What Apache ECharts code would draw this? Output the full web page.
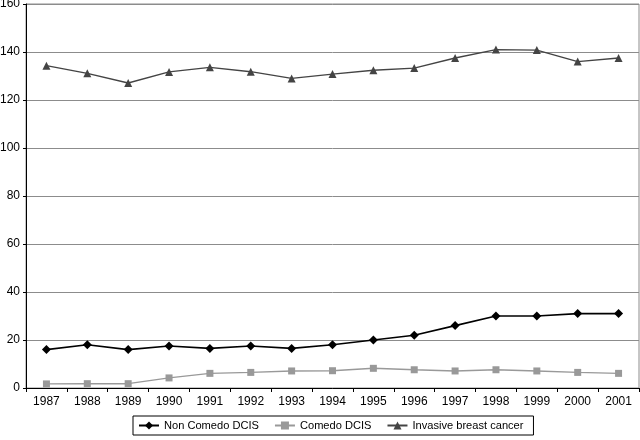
<!DOCTYPE html>
<html>
<head>
<meta charset="utf-8">
<script src="https://cdn.jsdelivr.net/npm/echarts@6/dist/echarts.min.js"></script>
<style>html,body{margin:0;padding:0;background:#fff}#c{width:640px;height:440px}</style>
</head>
<body>
<div id="c"></div>
<script>
const years = ['1987','1988','1989','1990','1991','1992','1993','1994','1995','1996','1997','1998','1999','2000','2001'];
const nonComedo = [16, 18, 16, 17.5, 16.5, 17.5, 16.5, 18, 20, 22, 26, 30, 30, 31, 31];
const comedo = [1.7, 1.8, 1.8, 4.2, 6.1, 6.5, 7.1, 7.2, 8.2, 7.6, 7.1, 7.6, 7.1, 6.5, 6.1];
const invasive = [134.3, 131.1, 127.1, 131.7, 133.6, 131.8, 129.0, 130.8, 132.4, 133.3, 137.5, 141.0, 140.8, 136.0, 137.5];
const yTicks = [0, 20, 40, 60, 80, 100, 120, 140, 160];

const font = 'Liberation Sans, Arial, sans-serif';
const chart = echarts.init(document.getElementById('c'), null, {renderer: 'canvas'});
chart.setOption({
  animation: false,
  backgroundColor: '#fff',
  grid: {left: 26, right: 1, top: 4, bottom: 52, outerBoundsMode: 'none', containLabel: false,
         show: true, borderColor: '#8c8c8c', borderWidth: 1, backgroundColor: 'transparent'},
  xAxis: {
    type: 'category', data: years, boundaryGap: true,
    axisLine: {lineStyle: {color: '#000', width: 1}},
    axisTick: {show: true, length: 4, inside: false, lineStyle: {color: '#000'}},
    axisLabel: {color: '#000', fontFamily: font, fontSize: 12, margin: 8}
  },
  yAxis: {
    type: 'value', min: yTicks[0], max: yTicks[yTicks.length - 1], interval: 20,
    axisLine: {show: true, lineStyle: {color: '#000', width: 1}},
    axisTick: {show: true, length: 3, lineStyle: {color: '#000'}},
    axisLabel: {color: '#000', fontFamily: font, fontSize: 12, margin: 6},
    splitLine: {show: true, lineStyle: {color: '#8c8c8c', width: 1}}
  },
  legend: {
    left: 133, top: 416,
    padding: [4, 10, 4, 5],
    itemGap: 15, itemWidth: 20, itemHeight: 10,
    borderColor: '#000', borderWidth: 1, backgroundColor: '#fff',
    textStyle: {color: '#000', fontFamily: font, fontSize: 11.1},
    data: ['Non Comedo DCIS', 'Comedo DCIS', 'Invasive breast cancer']
  },
  series: [
    {name: 'Non Comedo DCIS', type: 'line', data: nonComedo, symbol: 'diamond', symbolSize: 9,
     itemStyle: {color: '#000'}, lineStyle: {color: '#000', width: 1.6}},
    {name: 'Comedo DCIS', type: 'line', data: comedo, symbol: 'rect', symbolSize: 7,
     itemStyle: {color: '#999'}, lineStyle: {color: '#999', width: 1.4}},
    {name: 'Invasive breast cancer', type: 'line', data: invasive, symbol: 'triangle', symbolSize: 8,
     itemStyle: {color: '#444'}, lineStyle: {color: '#444', width: 1.4}}
  ]
});
</script>
</body>
</html>
